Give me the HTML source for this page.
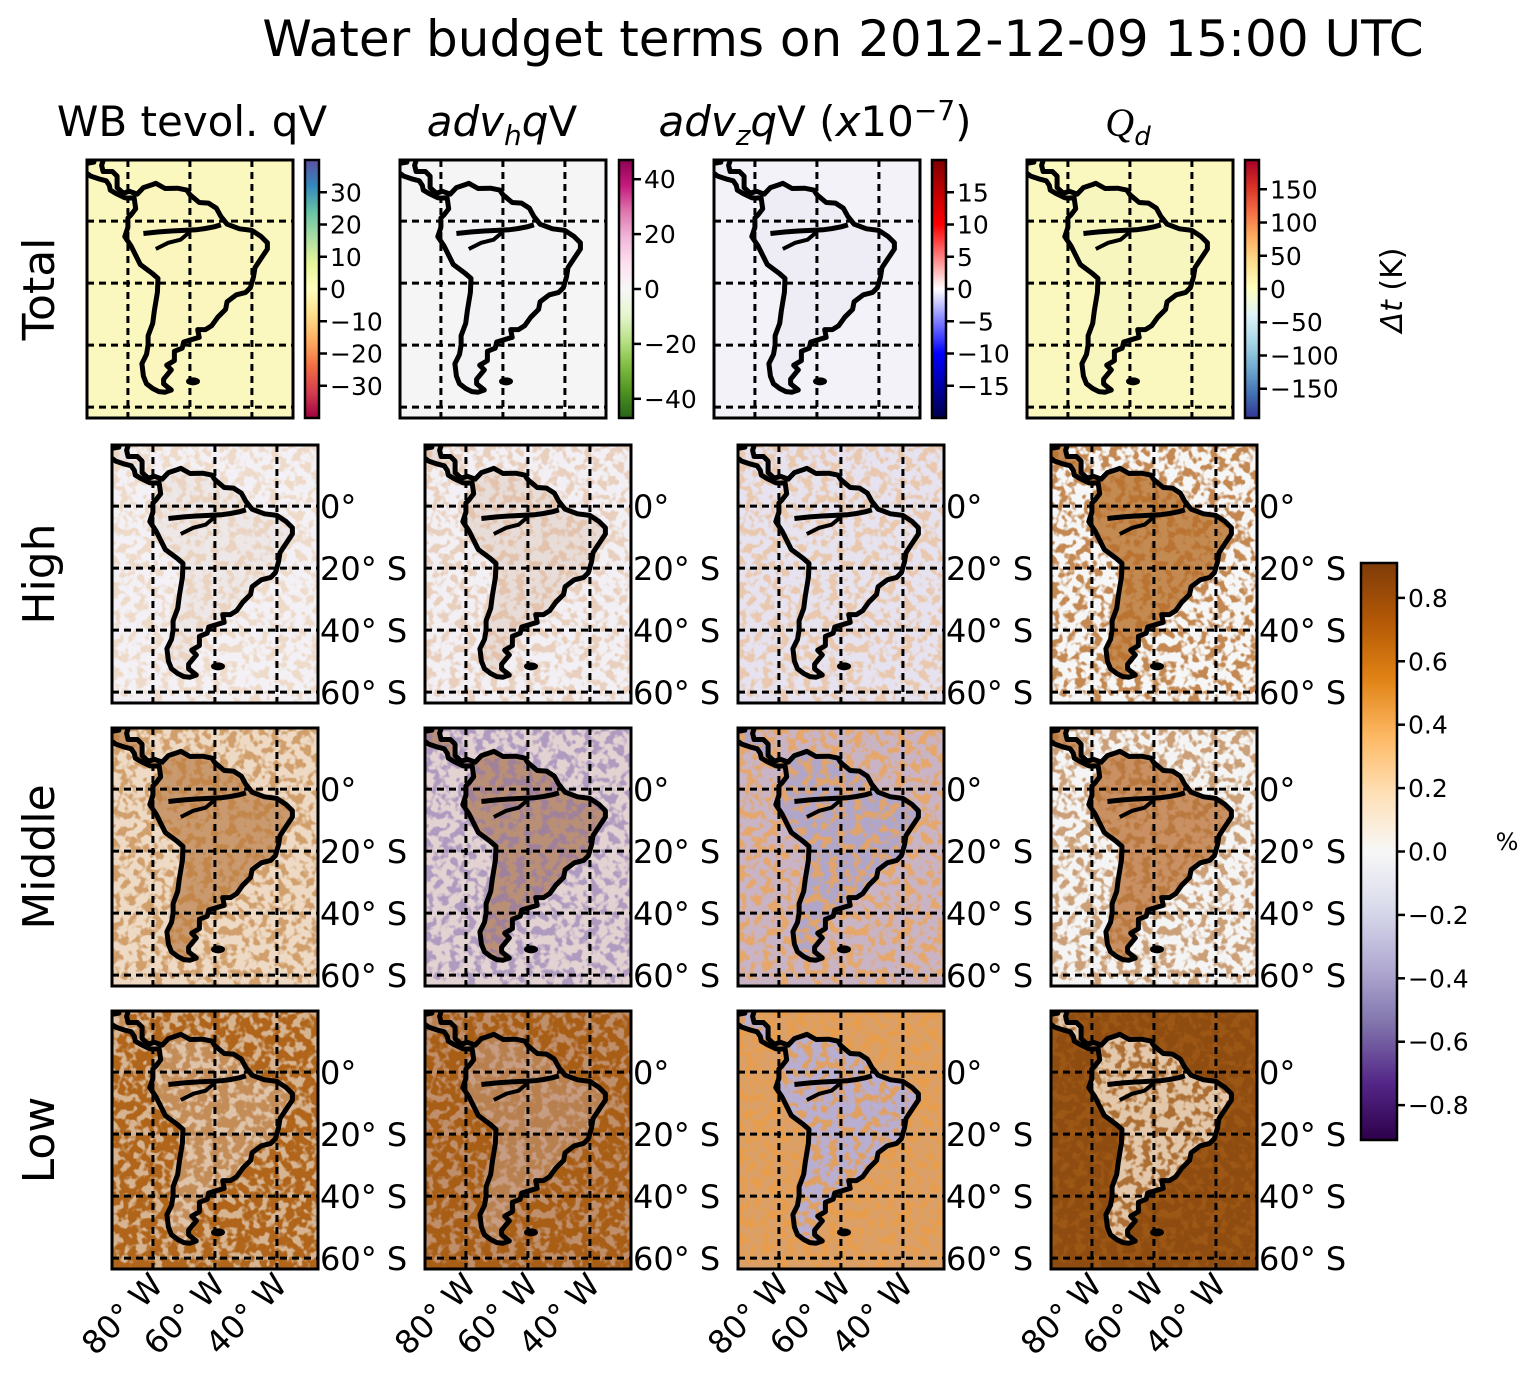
<!DOCTYPE html>
<html><head><meta charset="utf-8"><style>
html,body{margin:0;padding:0;background:#fff;}
svg{display:block;font-family:"DejaVu Sans","Liberation Sans",sans-serif;}
</style></head><body>
<svg id="fig" width="1536" height="1376" viewBox="0 0 1536 1376" xmlns="http://www.w3.org/2000/svg">
<defs id="defs"></defs>
<text x="843" y="56" font-size="50" text-anchor="middle">Water budget terms on 2012-12-09 15:00 UTC</text>
<text x="192" y="136" font-size="42" text-anchor="middle">WB tevol. qV</text>
<text x="502" y="136" font-size="42" text-anchor="middle"><tspan font-style="italic">adv</tspan><tspan font-style="italic" font-size="28" dy="9">h</tspan><tspan font-style="italic" dy="-9">q</tspan>V</text>
<text x="815" y="136" font-size="42" text-anchor="middle"><tspan font-style="italic">adv</tspan><tspan font-style="italic" font-size="28" dy="9">z</tspan><tspan font-style="italic" dy="-9">q</tspan>V (<tspan font-style="italic">x</tspan>10<tspan font-size="28" dy="-16">−7</tspan><tspan dy="16">)</tspan></text>
<text x="1128" y="136" font-size="40" text-anchor="middle"><tspan font-style="italic" font-family="Liberation Serif, serif">Q</tspan><tspan font-style="italic" font-size="26" dy="9">d</tspan></text>
<g id="main"></g>
</svg>
<script>
// colorbar tick data
const cb1Ticks = [30,20,10,0,-10,-20,-30];
const cb1Range = [-40,40];
const cb2Ticks = [40,20,0,-20,-40];
const cb2Range = [-47,47];
const cb3Ticks = [15,10,5,0,-5,-10,-15];
const cb3Range = [-20,20];
const cb4Ticks = [150,100,50,0,-50,-100,-150];
const cb4Range = [-194,194];
const cbBigTicks = [0.8,0.6,0.4,0.2,0.0,-0.2,-0.4,-0.6,-0.8];
const cbBigLabels = ["0.8","0.6","0.4","0.2","0.0","−0.2","−0.4","−0.6","−0.8"];
const cbBigRange = [-0.91,0.91];
const latTicks = [0,-20,-40,-60];
const latLabels = ["0°","20° S","40° S","60° S"];
const lonTicks = [-80,-60,-40];
const lonLabels = ["80° W","60° W","40° W"];
const rowNames = ["Total","High","Middle","Low"];

// coastline (lon, lat)
const coastLon = [-77,-75,-72,-71,-68,-64,-61,-60,-57,-54,-51.5,-50,-48,-44,-40,-37,-35,-35,-37,-39,-39.5,-40.5,-42,-45,-48,-48.5,-51,-53,-55,-57.5,-57,-62,-62.5,-65,-65,-67.5,-66,-68.5,-68.5,-66,-68,-70,-72,-74,-75,-75.5,-74,-73.5,-73.5,-72,-71.5,-70.5,-70.3,-72,-76,-79,-81,-80,-80,-79,-77.5,-78,-80,-81,-84,-85.7,-86,-87,-89,-92,-94,-96,-96,-94,-91,-90.5,-87.5,-88.5,-88,-85,-83.5,-83.5,-81.5,-79.5];
const coastLat = [8.7,10.8,11.8,12.2,10.5,10.6,10,8.5,6,5.8,4.2,1.5,-1,-2.5,-3,-5,-7,-9,-12,-15,-18,-21.5,-23,-23.8,-26,-28.5,-31,-33.8,-35,-35,-37.5,-39,-41,-42,-45,-46.5,-48,-51,-52.5,-54.5,-55.2,-55,-54,-52.5,-50,-46,-43,-40,-37,-33,-29,-23,-18.5,-17,-14,-8,-5,-2,1,2,4,7.5,7.4,7.5,9,10,11.5,13,13.5,14.5,16,16,19,18.5,19,21,21,18,16,16,14.5,10.8,9,9.6];
const riverLon = [-75,-70,-66,-62,-58,-55,-52,-50];
const riverLat = [-4,-3.5,-3.2,-3,-2.8,-2.4,-1.8,-1.2];
const river2Lon = [-71,-67,-63,-60];
const river2Lat = [-9,-7,-6,-3.5];

const NS='http://www.w3.org/2000/svg';
const main=document.getElementById('main');
const defs=document.getElementById('defs');
function el(tag,attrs,parent){const e=document.createElementNS(NS,tag);for(const k in attrs)e.setAttribute(k,attrs[k]);(parent||main).appendChild(e);return e;}

const MW=206, MH=258;
function px(lon){return (lon+93.2)*3.1;}
function py(lat){return (19.7-lat)*3.1;}
function pathOf(lons,lats,close){let d='';for(let i=0;i<lons.length;i++)d+=(i?'L':'M')+px(lons[i]).toFixed(1)+','+py(lats[i]).toFixed(1);return d+(close?'Z':'');}

function grad(id,stops){const g=el('linearGradient',{id:id,x1:0,y1:1,x2:0,y2:0},defs);stops.forEach((c,i)=>el('stop',{offset:(i/(stops.length-1)),'stop-color':c},g));}
grad('spectral',['#9e0142','#d53e4f','#f46d43','#fdae61','#fee08b','#ffffbf','#e6f598','#abdda4','#66c2a5','#3288bd','#5e4fa2']);
grad('piyg',['#276419','#4d9221','#7fbc41','#b8e186','#e6f5d0','#f7f7f7','#fde0ef','#f1b6da','#de77ae','#c51b7d','#8e0152']);
grad('seismic',['#00004c','#0000ff','#ffffff','#ff0000','#7f0000']);
grad('rdylbu',['#313695','#4575b4','#74add1','#abd9e9','#e0f3f8','#ffffbf','#fee090','#fdae61','#f46d43','#d73027','#a50026']);
grad('puor',['#2d004b','#542788','#8073ac','#b2abd2','#d8daeb','#f7f7f7','#fee0b6','#fdb863','#e08214','#b35806','#7f3b08']);

// speckle filter: noise used as alpha mask for the source colour
const f=el('filter',{id:'speck',x:0,y:0,width:'100%',height:'100%'},defs);
el('feTurbulence',{type:'fractalNoise',baseFrequency:'0.12',numOctaves:2,seed:3,result:'n'},f);
el('feColorMatrix',{in:'n',type:'matrix',values:'0 0 0 0 0  0 0 0 0 0  0 0 0 0 0  0 0 0 7 -3.3',result:'a'},f);
el('feComposite',{in:'SourceGraphic',in2:'a',operator:'in'},f);

// per map: [ocean, land, blob color, blob opacity]
const mapStyles = [
 [['#fbf8bf','#faf6bd',null,0],['#f5f5f5','#f3f2f4',null,0],['#f3f2f8','#eeecf4',null,0],['#fbf8bf','#f8f6bf',null,0]],
 [['#f3f1f5','#ede7e7','#e7b07a',0.35],['#f2f0f4','#e8dcd8','#dca070',0.4],['#e6e2ef','#e6e2ee','#edb070',0.5],['#f6f6f6','#c38a52','#b86e2a',0.8]],
 [['#edd9c4','#c99a70','#c07a30',0.6],['#e2d2d2','#b98f76','#8f78b5',0.6],['#c9b4c6','#b0a6c9','#eda455',0.8],['#f5f4f4','#c99064','#b06a28',0.6]],
 [['#b0651a','#c48d58','#f0e8e0',0.6],['#a95e16','#b9804f','#cfb0a5',0.6],['#dba067','#b8aed2','#eb9d45',0.8],['#8e4c10','#e2c7aa','#a05a18',0.8]]
];
const colX1=[87,400,714,1027], colX=[112,425,738,1051], rowY=[160,445,728,1011];
const colNames=['tevol','advh','advz','qd'];

for(let r=0;r<4;r++){
 for(let c=0;c<4;c++){
  const x0 = r===0?colX1[c]:colX[c], y0=rowY[r];
  const st=mapStyles[r][c];
  const g=el('g',{transform:`translate(${x0},${y0})`});
  
  
  const cid=`clip${r}${c}`;
  const cp=el('clipPath',{id:cid},defs); el('rect',{x:0,y:0,width:MW,height:MH},cp);
  const inner=el('g',{'clip-path':`url(#${cid})`},g);
  el('rect',{x:0,y:0,width:MW,height:MH,fill:st[0]},inner);
  el('path',{d:pathOf(coastLon,coastLat,true),fill:st[1]},inner);
  if(st[2]){
    el('rect',{x:0,y:0,width:MW,height:MH,fill:st[2],filter:'url(#speck)',opacity:st[3]},inner);
  }
  el('path',{d:pathOf(coastLon,coastLat,true),fill:'none',stroke:'#000','stroke-width':5,'stroke-linejoin':'round'},inner);
  el('path',{d:pathOf(riverLon,riverLat,false),fill:'none',stroke:'#000','stroke-width':5},inner);
  el('path',{d:pathOf(river2Lon,river2Lat,false),fill:'none',stroke:'#000','stroke-width':4},inner);
  el('ellipse',{cx:px(-59),cy:py(-51.7),rx:7,ry:4,fill:'#000'},inner);
  latTicks.forEach(l=>el('line',{x1:0,x2:MW,y1:py(l),y2:py(l),stroke:'#000','stroke-width':3,'stroke-dasharray':'7,5'},inner));
  lonTicks.forEach(l=>el('line',{x1:px(l),x2:px(l),y1:0,y2:MH,stroke:'#000','stroke-width':3,'stroke-dasharray':'7,5'},inner));
  el('rect',{x:0,y:0,width:MW,height:MH,fill:'none',stroke:'#000','stroke-width':3},g);
  if(r>0){
   latTicks.forEach((l,i)=>{const t=el('text',{x:MW+2,y:py(l)+12,'font-size':32},g);t.textContent=latLabels[i];
    
    });
  }
  if(r===3){
   lonTicks.forEach((l,i)=>{const t=el('text',{x:0,y:0,'font-size':32,'text-anchor':'end',transform:`translate(${px(l)+12},${MH+18}) rotate(-45)`},g);t.textContent=lonLabels[i];
    
    });
  }
 }
 const rl=el('text',{x:0,y:0,'font-size':44,'text-anchor':'middle',transform:`translate(54,${rowY[r]+MH/2}) rotate(-90)`});
 rl.textContent=rowNames[r];
 
 
}

function colorbar(x,y,w,h,gid,ticks,labels,range,fs,name){
 const g=el('g',{});
 
 
 el('rect',{x:x,y:y,width:w,height:h,fill:`url(#${gid})`,stroke:'#000','stroke-width':2.5},g);
 ticks.forEach((t,i)=>{const yy=y+h*(range[1]-t)/(range[1]-range[0]);
  el('line',{x1:x+w,x2:x+w+8,y1:yy,y2:yy,stroke:'#000','stroke-width':2.5},g);
  const tx=el('text',{x:x+w+11,y:yy+fs*0.36,'font-size':fs},g);tx.textContent=labels[i];
  
  });
}
const fmt=a=>a.map(v=>v<0?'−'+Math.abs(v):String(v));
colorbar(305,160,14,258,'spectral',cb1Ticks,fmt(cb1Ticks),cb1Range,25,'colorbar-tevol');
colorbar(619,160,14,258,'piyg',cb2Ticks,fmt(cb2Ticks),cb2Range,25,'colorbar-advh');
colorbar(932,160,14,258,'seismic',cb3Ticks,fmt(cb3Ticks),cb3Range,25,'colorbar-advz');
colorbar(1245,160,14,258,'rdylbu',cb4Ticks,fmt(cb4Ticks),cb4Range,25,'colorbar-qd');
colorbar(1361,563,36,577,'puor',cbBigTicks,cbBigLabels,cbBigRange,25,'colorbar-percent');
const dt=el('text',{x:0,y:0,'font-size':30,'text-anchor':'middle',transform:'translate(1402,290) rotate(-90)'});
dt.innerHTML='<tspan font-style="italic">Δt</tspan> (K)';


const pc=el('text',{x:1507,y:850,'font-size':24,'text-anchor':'middle'});
pc.textContent='%';


</script>
</body></html>
